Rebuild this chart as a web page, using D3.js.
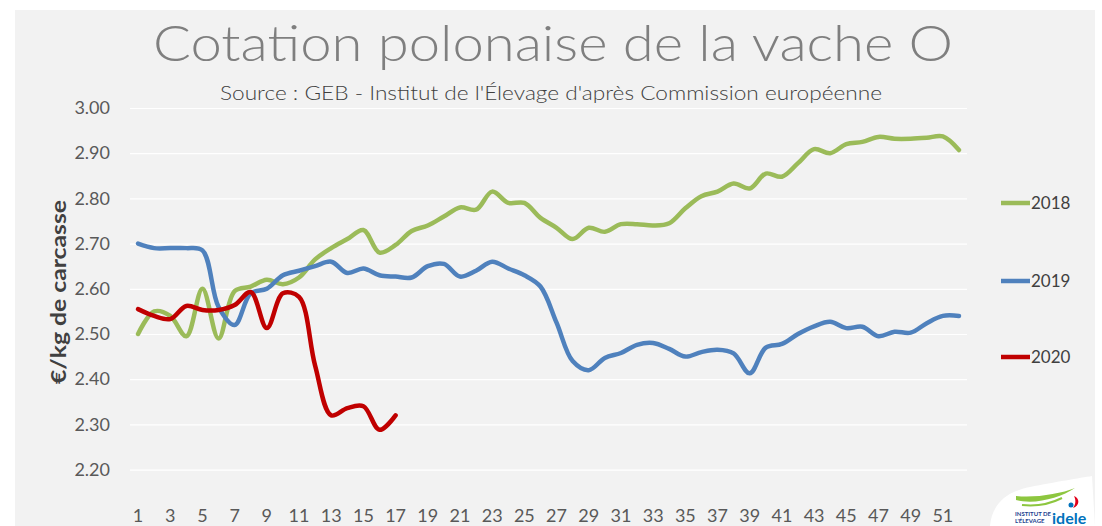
<!DOCTYPE html>
<html>
<head>
<meta charset="utf-8">
<script src="https://cdn.jsdelivr.net/npm/d3@7"></script>
<style>
  body { margin: 0; background: #fff; }
  svg { display: block; }
  text { font-family: "Century Gothic", "Lato", "DejaVu Sans", sans-serif; }
</style>
</head>
<body>
<div id="chart"></div>
<script>
"use strict";

// semaines
const weeks = [1, 2, 3, 4, 5, 6, 7, 8, 9, 10, 11, 12, 13, 14, 15, 16, 17, 18, 19, 20,
  21, 22, 23, 24, 25, 26, 27, 28, 29, 30, 31, 32, 33, 34, 35, 36, 37, 38, 39, 40,
  41, 42, 43, 44, 45, 46, 47, 48, 49, 50, 51, 52];
const xTickLabels = [1, 3, 5, 7, 9, 11, 13, 15, 17, 19, 21, 23, 25, 27, 29, 31, 33, 35,
  37, 39, 41, 43, 45, 47, 49, 51];
const yTickLabels = [2.2, 2.3, 2.4, 2.5, 2.6, 2.7, 2.8, 2.9, 3.0];

const v2018 = [2.50, 2.55, 2.54, 2.495, 2.60, 2.49, 2.595, 2.605, 2.62, 2.61, 2.625, 2.665,
  2.69, 2.71, 2.73, 2.68, 2.697, 2.728, 2.74, 2.76, 2.78, 2.775, 2.815, 2.79, 2.79, 2.757,
  2.735, 2.71, 2.735, 2.726, 2.743, 2.743, 2.74, 2.745, 2.778, 2.805, 2.815, 2.833, 2.822,
  2.855, 2.848, 2.878, 2.909, 2.90, 2.92, 2.925, 2.936, 2.932, 2.932, 2.934, 2.937, 2.907];
const v2019 = [2.70, 2.69, 2.69, 2.69, 2.685, 2.56, 2.52, 2.59, 2.60, 2.63, 2.64, 2.65,
  2.66, 2.635, 2.645, 2.63, 2.627, 2.625, 2.65, 2.655, 2.627, 2.64, 2.66, 2.645, 2.63, 2.605,
  2.525, 2.44, 2.42, 2.447, 2.458, 2.476, 2.48, 2.467, 2.45, 2.46, 2.465, 2.457, 2.413,
  2.47, 2.478, 2.50, 2.517, 2.527, 2.513, 2.516, 2.495, 2.505, 2.503, 2.524, 2.54, 2.54];
const v2020 = [2.555, 2.54, 2.533, 2.562, 2.553, 2.553, 2.564, 2.593, 2.513, 2.59, 2.582,
  2.43, 2.32, 2.336, 2.34, 2.288, 2.32];

const seriesNames = ["2018", "2019", "2020"];
const seriesColors = ["#9bbb59", "#4f81bd", "#c00000"];

function DrawChart() {
  const width = 1102,
    height = 526;
  const plot = { left: 130, right: 967, top: 108, bottom: 469.6 };

  const svg = d3
    .select("#chart")
    .append("svg")
    .attr("width", width)
    .attr("height", height);

  // fond gris
  svg
    .append("rect")
    .attr("x", 15)
    .attr("y", 10)
    .attr("width", 1080)
    .attr("height", height - 10)
    .attr("fill", "#f2f2f2");

  const x = d3.scaleBand().domain(weeks).range([plot.left, plot.right]).padding(0);
  const y = d3.scaleLinear().domain([2.2, 3.0]).range([plot.bottom, plot.top]);
  const cx = (w) => x(w) + x.bandwidth() / 2;

  // grille
  svg
    .append("g")
    .attr("class", "grid")
    .attr("transform", "translate(" + plot.left + ",0)")
    .call(d3.axisLeft(y).tickValues(yTickLabels).tickSize(-(plot.right - plot.left)).tickFormat(""))
    .call((g) => g.select(".domain").remove())
    .call((g) => g.selectAll("line").attr("stroke", "#ffffff").attr("stroke-width", 1.2));

  // axe y
  svg
    .append("g")
    .attr("id", "y-axis")
    .attr("transform", "translate(" + plot.left + ",0)")
    .call(d3.axisLeft(y).tickValues(yTickLabels).tickSize(0).tickPadding(20).tickFormat(d3.format(".2f")))
    .call((g) => g.select(".domain").remove())
    .call((g) =>
      g.selectAll("text").attr("font-size", 18).attr("fill", "#595959").style("font-family", null)
    );

  // axe x
  svg
    .append("g")
    .attr("id", "x-axis")
    .attr("transform", "translate(0," + plot.bottom + ")")
    .call(d3.axisBottom(x).tickValues(xTickLabels).tickSize(0).tickPadding(40))
    .call((g) => g.select(".domain").remove())
    .call((g) =>
      g.selectAll("text").attr("font-size", 18).attr("fill", "#595959").style("font-family", null)
    );

  // courbes
  const line = d3
    .line()
    .x((d, i) => cx(weeks[i]))
    .y((d) => y(d))
    .curve(d3.curveCatmullRom.alpha(0.5));

  const allSeries = [v2018, v2019, v2020];
  svg
    .append("g")
    .selectAll("path")
    .data(allSeries)
    .enter()
    .append("path")
    .attr("d", (d) => line(d))
    .attr("fill", "none")
    .attr("stroke", (d, i) => seriesColors[i])
    .attr("stroke-width", 4.5)
    .attr("stroke-linecap", "round")
    .attr("stroke-linejoin", "round");

  // légende
  const legendY = [203, 281, 357];
  const legend = svg
    .append("g")
    .selectAll("g")
    .data(seriesNames)
    .enter()
    .append("g")
    .attr("transform", (d, i) => "translate(1001," + legendY[i] + ")");
  legend
    .append("line")
    .attr("x1", 0)
    .attr("x2", 29)
    .attr("stroke", (d, i) => seriesColors[i])
    .attr("stroke-width", 4.5);
  legend
    .append("text")
    .attr("x", 30)
    .attr("dy", "0.35em")
    .attr("font-size", 17)
    .attr("fill", "#404040")
    .text((d) => d);

  // titres
  svg
    .append("text")
    .attr("x", 553)
    .attr("y", 61)
    .attr("text-anchor", "middle")
    .attr("font-size", 50)
    .attr("font-weight", 300)
    .attr("fill", "#7f7f7f")
    .attr("textLength", 800)
    .attr("lengthAdjust", "spacingAndGlyphs")
    .text("Cotation polonaise de la vache O");

  svg
    .append("text")
    .attr("x", 551)
    .attr("y", 100)
    .attr("text-anchor", "middle")
    .attr("font-size", 19)
    .attr("font-weight", 300)
    .attr("fill", "#404040")
    .attr("textLength", 662)
    .attr("lengthAdjust", "spacingAndGlyphs")
    .text("Source : GEB - Institut de l'Élevage d'après Commission européenne");

  svg
    .append("text")
    .attr("transform", "translate(66,292) rotate(-90)")
    .attr("text-anchor", "middle")
    .attr("font-size", 21)
    .attr("font-weight", "bold")
    .attr("fill", "#404040")
    .attr("textLength", 184)
    .attr("lengthAdjust", "spacingAndGlyphs")
    .text("€/kg de carcasse");

  // logo idele (approx.)
  const logo = svg.append("g");
  logo
    .append("path")
    .attr("d", "M990,526 C992,505 1005,492 1030,487 C1055,482 1080,478 1092,476 L1095,526 Z")
    .attr("fill", "#ffffff");
  logo
    .append("path")
    .attr("d", "M1016,500 C1035,505 1060,498 1075,488 C1060,494 1035,498 1016,496 Z")
    .attr("fill", "#8dc63f");
  logo
    .append("path")
    .attr("d", "M1022,505 C1040,507 1052,503 1062,498")
    .attr("fill", "none")
    .attr("stroke", "#8dc63f")
    .attr("stroke-width", 2);
  logo
    .append("path")
    .attr("d", "M1074,496 C1080,498 1080,506 1073,508 C1076,504 1076,500 1074,496 Z")
    .attr("fill", "#e2001a");
  logo
    .append("circle")
    .attr("cx", 1071)
    .attr("cy", 505)
    .attr("r", 2.5)
    .attr("fill", "#0072bc");
  logo
    .append("text")
    .attr("x", 1015)
    .attr("y", 516)
    .attr("font-size", 6)
    .attr("font-weight", "bold")
    .attr("fill", "#1d3f8f")
    .text("INSTITUT DE");
  logo
    .append("text")
    .attr("x", 1015)
    .attr("y", 523)
    .attr("font-size", 6)
    .attr("font-weight", "bold")
    .attr("fill", "#1d3f8f")
    .text("L'ÉLEVAGE");
  logo
    .append("text")
    .attr("x", 1052)
    .attr("y", 524)
    .attr("font-size", 16)
    .attr("font-weight", "bold")
    .attr("fill", "#0072bc")
    .text("idele");
}

DrawChart();
</script>
</body>
</html>
